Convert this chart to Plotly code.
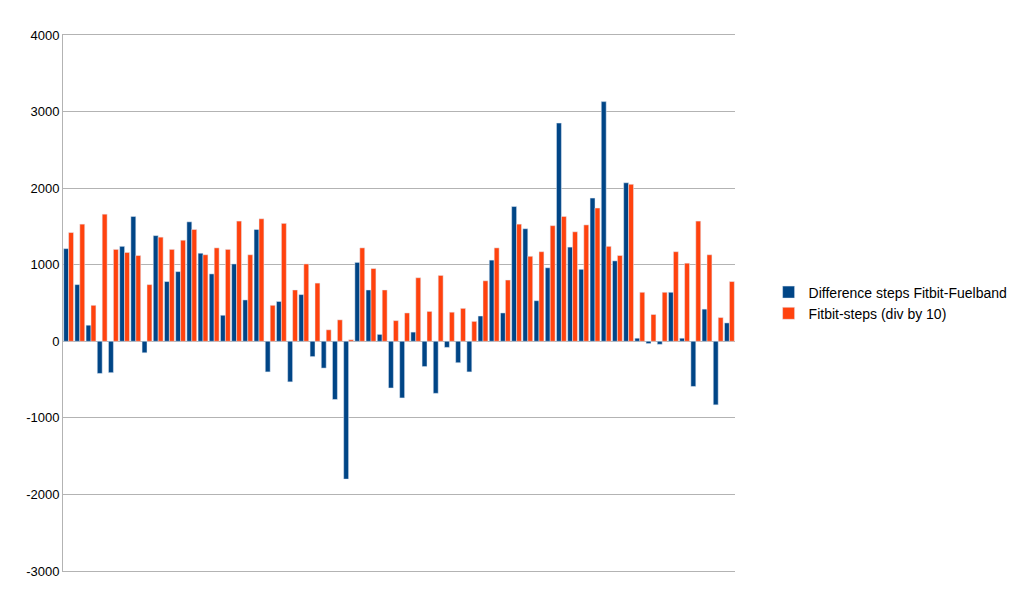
import plotly.graph_objects as go

diff = [1210,740,210,-420,-410,1240,1630,-150,1380,780,910,1560,1150,880,340,1010,540,1460,-400,520,
        -530,610,-200,-350,-760,-1800,1030,670,90,-610,-740,120,-330,-680,-80,-280,-400,330,1060,370,
        1760,1470,530,960,2850,1230,940,1870,3130,1050,2070,40,-30,-40,640,40,-590,420,-830,240]
fitbit = [1420,1530,470,1660,1200,1160,1120,740,1360,1200,1320,1460,1130,1220,1200,1570,1130,1600,470,1540,
          670,1010,760,150,280,20,1220,950,670,270,370,830,390,860,380,430,260,790,1220,800,
          1530,1110,1170,1510,1630,1430,1520,1740,1240,1120,2050,640,350,640,1170,1020,1570,1130,310,780]
ytick_vals = [-3000, -2000, -1000, 0, 1000, 2000, 3000, 4000]
ytick_text = ["-3000", "-2000", "-1000", "0", "1000", "2000", "3000", "4000"]
x = list(range(1, len(diff) + 1))

fig = go.Figure()
fig.add_bar(x=x, y=diff, name="Difference steps Fitbit-Fuelband", marker_color="#004586")
fig.add_bar(x=x, y=fitbit, name="Fitbit-steps (div by 10)", marker_color="#ff420e")
fig.update_layout(
    width=1024, height=595, barmode="group", bargap=0.12, bargroupgap=0,
    margin=dict(l=55, r=297, t=27, b=32),
    plot_bgcolor="white", paper_bgcolor="white",
    font=dict(family="Liberation Sans, Arial", size=13, color="black"),
    legend=dict(x=1.05, y=0.5, yanchor="middle", font=dict(size=14), tracegroupgap=0,
                itemwidth=30),
    xaxis=dict(range=[0.5, len(diff) + 0.5], showticklabels=False, showgrid=False,
               showline=True, linecolor="#b3b3b3", mirror=True, zeroline=False),
    yaxis=dict(range=[-3000, 4000], tickvals=ytick_vals, ticktext=ytick_text,
               showgrid=True, gridcolor="#b3b3b3",
               zeroline=True, zerolinecolor="#b3b3b3", zerolinewidth=1,
               showline=True, linecolor="#b3b3b3", ticks="", ticklen=0),
)
fig.write_html("out.html")
